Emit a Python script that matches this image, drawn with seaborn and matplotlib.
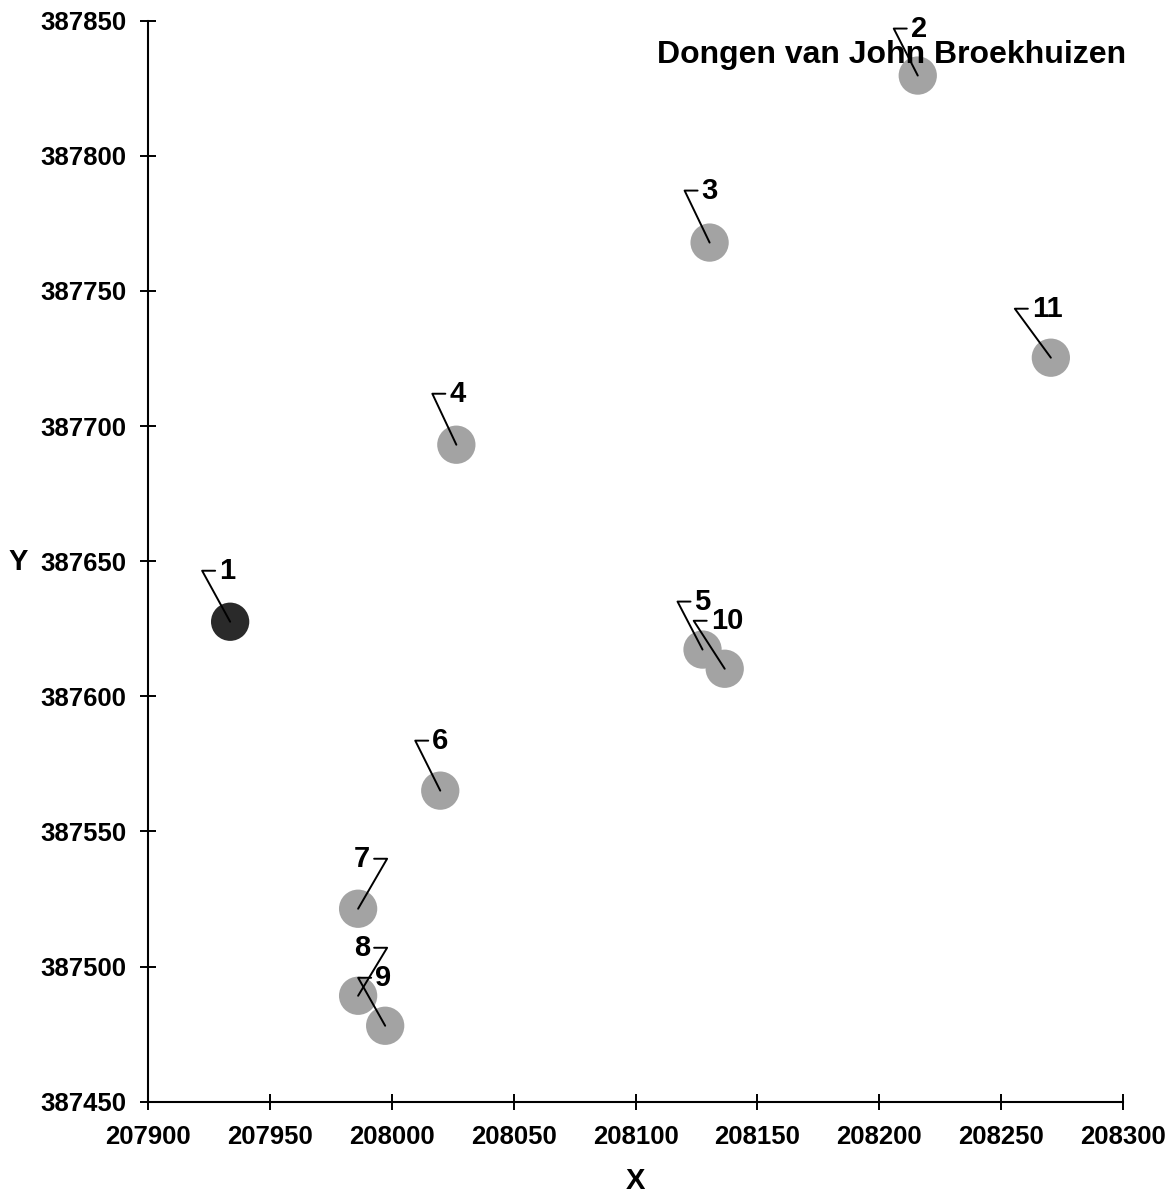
import matplotlib
matplotlib.use('Agg')
import matplotlib.pyplot as plt
import matplotlib.transforms as mtransforms
from matplotlib.ticker import StrMethodFormatter
import pandas as pd
import seaborn as sns

# point numbers and RD coordinates
labels = ['1', '2', '3', '4', '5', '6', '7', '8', '9', '10', '11']
x_vals = [207933.7, 208215.8, 208130.4, 208026.5, 208127.5, 208019.9,
          207986.2, 207986.2, 207997.3, 208136.6, 208270.4]
y_vals = [387627.6, 387829.7, 387767.9, 387693.1, 387617.3, 387565.1,
          387521.4, 387489.2, 387478.1, 387610.2, 387725.3]
kind = ['start'] + ['other'] * 10

x_ticks = list(range(207900, 208301, 50))
y_ticks = list(range(387450, 387851, 50))

# leader line elbow offsets in pixels (right, up) and side of the label
lead_dx = [-28, -24, -25, -24, -25, -25, 29, 29, -27, -31, -36]
lead_dy = [51, 47, 52, 51, 48, 50, 50, 48, 48, 48, 49]
lead_side = [1, 1, 1, 1, 1, 1, -1, -1, 1, 1, 1]

sns.set_style('white')
plt.rcParams['font.family'] = ['Liberation Sans', 'DejaVu Sans']
plt.rcParams['font.weight'] = 'bold'
plt.rcParams['text.color'] = 'black'

df = pd.DataFrame({'label': labels, 'X': x_vals, 'Y': y_vals, 'kind': kind})

fig = plt.figure(figsize=(11.7, 12.02), dpi=100)
ax = fig.add_axes([148 / 1170, 1 - 1101.7 / 1202, 975 / 1170, 1081 / 1202])

sns.scatterplot(data=df, x='X', y='Y', hue='kind',
                palette={'start': '#2a2a2a', 'other': '#a3a3a3'},
                s=760, edgecolor='none', legend=False, ax=ax, zorder=2)

# labels with little elbow leader lines, like the Excel data labels
for i, row in df.iterrows():
    dx, dy, side = lead_dx[i], lead_dy[i], lead_side[i]
    trans = (mtransforms.Affine2D().scale(fig.dpi / 100)
             + mtransforms.ScaledTranslation(row['X'], row['Y'], ax.transData))
    ax.plot([0, dx, dx + side * 13], [0, dy, dy], transform=trans,
            color='black', lw=1.4, zorder=3, clip_on=False)
    ax.text(dx + side * 17, dy, row['label'], transform=trans,
            ha='left' if side > 0 else 'right', va='center',
            fontsize=21, fontweight='bold', color='black', zorder=4)

ax.set_xlim(207900, 208300)
ax.set_ylim(387450, 387850)
ax.set_xticks(x_ticks)
ax.set_yticks(y_ticks)
ax.xaxis.set_major_formatter(StrMethodFormatter('{x:.0f}'))
ax.yaxis.set_major_formatter(StrMethodFormatter('{x:.0f}'))
ax.tick_params(bottom=True, left=True, direction='inout', length=11.5,
               width=1.4, labelsize=18.5, color='black', labelcolor='black')
ax.tick_params(axis='x', pad=11)
ax.tick_params(axis='y', pad=10)

for side in ['top', 'right']:
    ax.spines[side].set_visible(False)
for side in ['left', 'bottom']:
    ax.spines[side].set_linewidth(1.5)
    ax.spines[side].set_color('black')

ax.set_xlabel('X', fontsize=21, fontweight='bold', color='black')
ax.set_ylabel('Y', fontsize=21, fontweight='bold', color='black', rotation=0)
ax.xaxis.set_label_coords(0.5, -0.0734)
ax.yaxis.set_label_coords(-0.1335, 0.4993)
ax.yaxis.label.set_va('center')
ax.xaxis.label.set_va('center')

fig.text(657 / 1170, 1 - 63.5 / 1202, 'Dongen van John Broekhuizen',
         ha='left', va='baseline', fontsize=23, fontweight='bold',
         color='black')

fig.savefig('out.png', dpi=100)
